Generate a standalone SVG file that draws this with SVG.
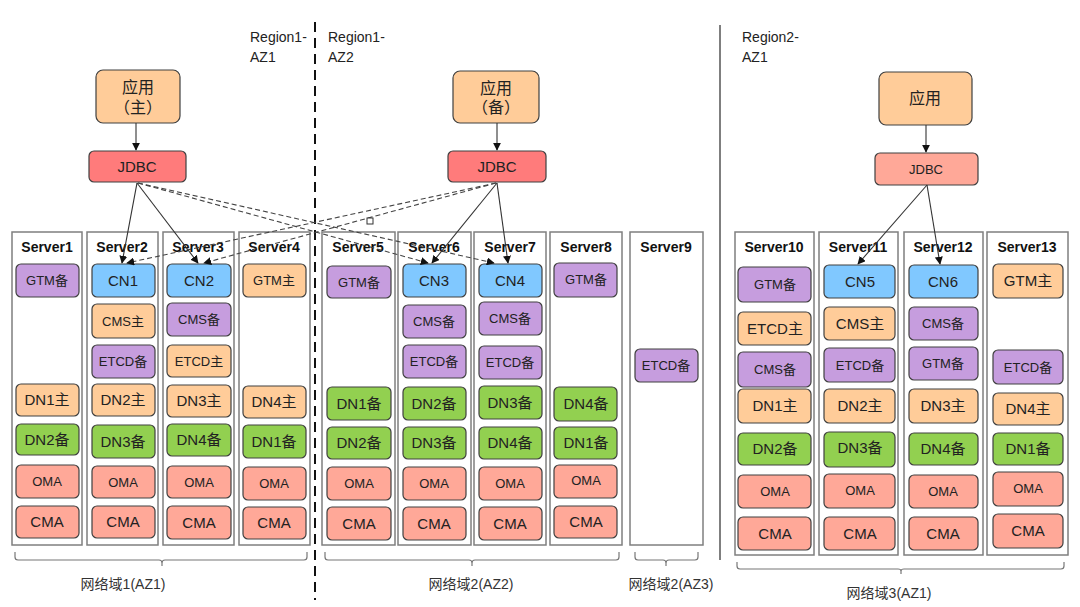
<svg xmlns="http://www.w3.org/2000/svg" width="1080" height="607" viewBox="0 0 1080 607">
<style>
.srv{fill:#fff;stroke:#7f7f7f;stroke-width:1.5}
rect.c{stroke:#404040;stroke-width:1.2}
.p{fill:#C69DDE}.b{fill:#80C8FF}.o{fill:#FFCC99}.g{fill:#92D050}.r{fill:#FFA898}
text{font-family:"Liberation Sans","Noto Sans CJK SC",sans-serif;fill:#222;text-anchor:middle}
.t{font-size:15px}.s{font-size:13px}
.dm{font-size:14px;fill:#333}
.st{font-size:14px;font-weight:bold;fill:#111}
.lb{font-size:14px;text-anchor:start;fill:#222}
.ln{stroke:#333;stroke-width:1.1;fill:none}
.dl{stroke:#444;stroke-width:1.1;fill:none;stroke-dasharray:5 3}
.br{stroke:#777;stroke-width:1.2;fill:none}
</style>
<defs>
<marker id="ah" viewBox="0 0 10 10" refX="9" refY="5" markerWidth="8" markerHeight="8" orient="auto" markerUnits="userSpaceOnUse"><path d="M0,0L10,5L0,10z" fill="#111"/></marker>
</defs>
<rect width="1080" height="607" fill="#fff"/>
<g id="separators">
<line x1="315" y1="22" x2="315" y2="600" stroke="#111" stroke-width="2" stroke-dasharray="10 6"/>
<line x1="720" y1="25" x2="720" y2="560" stroke="#555" stroke-width="1.5"/>
</g>
<g id="region-labels">
<text class="lb" x="250" y="42">Region1-</text><text class="lb" x="250" y="62">AZ1</text>
<text class="lb" x="328" y="42">Region1-</text><text class="lb" x="328" y="62">AZ2</text>
<text class="lb" x="742" y="42">Region2-</text><text class="lb" x="742" y="62">AZ1</text>
</g>
<g id="app1"><rect x="96" y="70" width="84" height="53" rx="7" fill="#FFCC99" stroke="#404040" stroke-width="1.2"/><text class="t" x="138" y="93" style="font-size:16px">应用</text><text class="t" x="138" y="113" style="font-size:16px">（主）</text></g>
<g id="app2"><rect x="453" y="71" width="86" height="52" rx="7" fill="#FFCC99" stroke="#404040" stroke-width="1.2"/><text class="t" x="496" y="94" style="font-size:16px">应用</text><text class="t" x="496" y="113" style="font-size:16px">（备）</text></g>
<g id="app3"><rect x="879" y="72" width="93" height="53" rx="7" fill="#FFCC99" stroke="#404040" stroke-width="1.2"/><text class="t" x="925" y="104" style="font-size:16px">应用</text></g>
<g id="jdbc1"><rect x="89" y="151" width="97" height="31" rx="5" fill="#FF7B7B" stroke="#404040" stroke-width="1.2"/><text class="t" x="137" y="172">JDBC</text></g>
<g id="jdbc2"><rect x="448" y="151" width="98" height="31" rx="5" fill="#FF7B7B" stroke="#404040" stroke-width="1.2"/><text class="t" x="497" y="172">JDBC</text></g>
<g id="jdbc3"><rect x="875" y="153" width="103" height="32" rx="5" fill="#FFA898" stroke="#404040" stroke-width="1.2"/><text class="s" x="926" y="174">JDBC</text></g>

<g id="server1"><rect class="srv" x="12" y="232" width="70" height="313"/><text class="st" x="47" y="252">Server1</text>
<rect class="c p" x="16" y="264" width="63" height="33" rx="5"/><text class="s" x="47" y="285">GTM备</text>
<rect class="c o" x="16" y="384" width="63" height="32" rx="5"/><text class="t" x="47" y="405">DN1主</text>
<rect class="c g" x="16" y="424" width="63" height="31" rx="5"/><text class="t" x="47" y="445">DN2备</text>
<rect class="c r" x="16" y="465" width="63" height="33" rx="5"/><text class="s" x="47" y="486">OMA</text>
<rect class="c r" x="16" y="506" width="63" height="32" rx="5"/><text class="t" x="47" y="527">CMA</text></g>

<g id="server2"><rect class="srv" x="87" y="232" width="71" height="313"/><text class="st" x="122" y="252">Server2</text>
<rect class="c b" x="92" y="264" width="63" height="33" rx="5"/><text class="t" x="123" y="286">CN1</text>
<rect class="c o" x="92" y="304" width="63" height="34" rx="5"/><text class="s" x="123" y="326">CMS主</text>
<rect class="c p" x="92" y="345" width="63" height="33" rx="5"/><text class="s" x="123" y="366">ETCD备</text>
<rect class="c o" x="92" y="384" width="63" height="32" rx="5"/><text class="t" x="123" y="405">DN2主</text>
<rect class="c g" x="92" y="425" width="63" height="33" rx="5"/><text class="t" x="123" y="447">DN3备</text>
<rect class="c r" x="92" y="466" width="63" height="32" rx="5"/><text class="s" x="123" y="487">OMA</text>
<rect class="c r" x="92" y="506" width="63" height="32" rx="5"/><text class="t" x="123" y="527">CMA</text></g>

<g id="server3"><rect class="srv" x="163" y="232" width="71" height="313"/><text class="st" x="198" y="252">Server3</text>
<rect class="c b" x="167" y="264" width="64" height="33" rx="5"/><text class="t" x="199" y="286">CN2</text>
<rect class="c p" x="167" y="303" width="64" height="33" rx="5"/><text class="s" x="199" y="324">CMS备</text>
<rect class="c o" x="167" y="345" width="64" height="32" rx="5"/><text class="s" x="199" y="366">ETCD主</text>
<rect class="c o" x="167" y="385" width="64" height="32" rx="5"/><text class="t" x="199" y="406">DN3主</text>
<rect class="c g" x="167" y="424" width="64" height="32" rx="5"/><text class="t" x="199" y="445">DN4备</text>
<rect class="c r" x="167" y="466" width="64" height="32" rx="5"/><text class="s" x="199" y="487">OMA</text>
<rect class="c r" x="167" y="506" width="64" height="33" rx="5"/><text class="t" x="199" y="528">CMA</text></g>

<g id="server4"><rect class="srv" x="239" y="232" width="71" height="313"/><text class="st" x="274" y="252">Server4</text>
<rect class="c o" x="243" y="264" width="63" height="33" rx="5"/><text class="s" x="274" y="285">GTM主</text>
<rect class="c o" x="243" y="386" width="63" height="32" rx="5"/><text class="t" x="274" y="407">DN4主</text>
<rect class="c g" x="243" y="425" width="63" height="33" rx="5"/><text class="t" x="274" y="447">DN1备</text>
<rect class="c r" x="243" y="467" width="63" height="33" rx="5"/><text class="s" x="274" y="488">OMA</text>
<rect class="c r" x="243" y="507" width="63" height="32" rx="5"/><text class="t" x="274" y="528">CMA</text></g>

<g id="server5"><rect class="srv" x="322" y="232" width="73" height="313"/><text class="st" x="358" y="252">Server5</text>
<rect class="c p" x="327" y="266" width="64" height="32" rx="5"/><text class="s" x="359" y="287">GTM备</text>
<rect class="c g" x="327" y="387" width="64" height="33" rx="5"/><text class="t" x="359" y="409">DN1备</text>
<rect class="c g" x="327" y="427" width="64" height="32" rx="5"/><text class="t" x="359" y="448">DN2备</text>
<rect class="c r" x="327" y="467" width="64" height="33" rx="5"/><text class="s" x="359" y="488">OMA</text>
<rect class="c r" x="327" y="507" width="64" height="33" rx="5"/><text class="t" x="359" y="529">CMA</text></g>

<g id="server6"><rect class="srv" x="398" y="232" width="73" height="313"/><text class="st" x="434" y="252">Server6</text>
<rect class="c b" x="403" y="264" width="63" height="33" rx="5"/><text class="t" x="434" y="286">CN3</text>
<rect class="c p" x="403" y="305" width="63" height="33" rx="5"/><text class="s" x="434" y="326">CMS备</text>
<rect class="c p" x="403" y="345" width="63" height="33" rx="5"/><text class="s" x="434" y="366">ETCD备</text>
<rect class="c g" x="403" y="387" width="63" height="33" rx="5"/><text class="t" x="434" y="409">DN2备</text>
<rect class="c g" x="403" y="427" width="63" height="32" rx="5"/><text class="t" x="434" y="448">DN3备</text>
<rect class="c r" x="403" y="467" width="63" height="33" rx="5"/><text class="s" x="434" y="488">OMA</text>
<rect class="c r" x="403" y="507" width="63" height="33" rx="5"/><text class="t" x="434" y="529">CMA</text></g>

<g id="server7"><rect class="srv" x="474" y="232" width="72" height="313"/><text class="st" x="510" y="252">Server7</text>
<rect class="c b" x="479" y="264" width="63" height="33" rx="5"/><text class="t" x="510" y="286">CN4</text>
<rect class="c p" x="479" y="302" width="63" height="33" rx="5"/><text class="s" x="510" y="323">CMS备</text>
<rect class="c p" x="479" y="346" width="63" height="33" rx="5"/><text class="s" x="510" y="367">ETCD备</text>
<rect class="c g" x="479" y="386" width="63" height="33" rx="5"/><text class="t" x="510" y="408">DN3备</text>
<rect class="c g" x="479" y="427" width="63" height="32" rx="5"/><text class="t" x="510" y="448">DN4备</text>
<rect class="c r" x="479" y="467" width="63" height="33" rx="5"/><text class="s" x="510" y="488">OMA</text>
<rect class="c r" x="479" y="507" width="63" height="33" rx="5"/><text class="t" x="510" y="529">CMA</text></g>

<g id="server8"><rect class="srv" x="550" y="232" width="72" height="313"/><text class="st" x="586" y="252">Server8</text>
<rect class="c p" x="554" y="263" width="63" height="34" rx="5"/><text class="s" x="586" y="284">GTM备</text>
<rect class="c g" x="554" y="387" width="63" height="34" rx="5"/><text class="t" x="586" y="409">DN4备</text>
<rect class="c g" x="554" y="427" width="63" height="32" rx="5"/><text class="t" x="586" y="448">DN1备</text>
<rect class="c r" x="554" y="465" width="63" height="33" rx="5"/><text class="s" x="586" y="485">OMA</text>
<rect class="c r" x="554" y="506" width="63" height="32" rx="5"/><text class="t" x="586" y="527">CMA</text></g>

<g id="server9"><rect class="srv" x="630" y="232" width="73" height="313"/><text class="st" x="666" y="252">Server9</text>
<rect class="c p" x="635" y="349" width="63" height="33" rx="5"/><text class="s" x="666" y="370">ETCD备</text></g>

<g id="server10"><rect class="srv" x="735" y="232" width="79" height="323"/><text class="st" x="774" y="252">Server10</text>
<rect class="c p" x="738" y="267" width="73" height="35" rx="5"/><text class="s" x="775" y="289">GTM备</text>
<rect class="c o" x="738" y="312" width="73" height="33" rx="5"/><text class="t" x="775" y="334">ETCD主</text>
<rect class="c p" x="738" y="352" width="73" height="35" rx="5"/><text class="s" x="775" y="374">CMS备</text>
<rect class="c o" x="738" y="389" width="73" height="34" rx="5"/><text class="t" x="775" y="411">DN1主</text>
<rect class="c g" x="738" y="433" width="73" height="32" rx="5"/><text class="t" x="775" y="454">DN2备</text>
<rect class="c r" x="738" y="475" width="73" height="33" rx="5"/><text class="s" x="775" y="496">OMA</text>
<rect class="c r" x="738" y="517" width="73" height="33" rx="5"/><text class="t" x="775" y="539">CMA</text></g>

<g id="server11"><rect class="srv" x="819" y="232" width="79" height="323"/><text class="st" x="858" y="252">Server11</text>
<rect class="c b" x="824" y="265" width="71" height="33" rx="5"/><text class="t" x="860" y="287">CN5</text>
<rect class="c o" x="824" y="307" width="71" height="33" rx="5"/><text class="t" x="860" y="329">CMS主</text>
<rect class="c p" x="824" y="348" width="71" height="34" rx="5"/><text class="s" x="860" y="370">ETCD备</text>
<rect class="c o" x="824" y="389" width="71" height="34" rx="5"/><text class="t" x="860" y="411">DN2主</text>
<rect class="c g" x="824" y="432" width="71" height="35" rx="5"/><text class="t" x="860" y="453">DN3备</text>
<rect class="c r" x="824" y="474" width="71" height="34" rx="5"/><text class="s" x="860" y="495">OMA</text>
<rect class="c r" x="824" y="517" width="71" height="33" rx="5"/><text class="t" x="860" y="539">CMA</text></g>

<g id="server12"><rect class="srv" x="904" y="232" width="79" height="323"/><text class="st" x="943" y="252">Server12</text>
<rect class="c b" x="909" y="265" width="69" height="33" rx="5"/><text class="t" x="943" y="287">CN6</text>
<rect class="c p" x="909" y="307" width="69" height="33" rx="5"/><text class="s" x="943" y="328">CMS备</text>
<rect class="c p" x="909" y="347" width="69" height="33" rx="5"/><text class="s" x="943" y="368">GTM备</text>
<rect class="c o" x="909" y="389" width="69" height="34" rx="5"/><text class="t" x="943" y="411">DN3主</text>
<rect class="c g" x="909" y="433" width="69" height="32" rx="5"/><text class="t" x="943" y="454">DN4备</text>
<rect class="c r" x="909" y="475" width="69" height="33" rx="5"/><text class="s" x="943" y="496">OMA</text>
<rect class="c r" x="909" y="517" width="69" height="33" rx="5"/><text class="t" x="943" y="539">CMA</text></g>

<g id="server13"><rect class="srv" x="987" y="232" width="81" height="323"/><text class="st" x="1027" y="252">Server13</text>
<rect class="c o" x="993" y="264" width="70" height="34" rx="5"/><text class="t" x="1028" y="286">GTM主</text>
<rect class="c p" x="993" y="350" width="70" height="34" rx="5"/><text class="s" x="1028" y="372">ETCD备</text>
<rect class="c o" x="993" y="393" width="70" height="32" rx="5"/><text class="t" x="1028" y="414">DN4主</text>
<rect class="c g" x="993" y="433" width="70" height="32" rx="5"/><text class="t" x="1028" y="454">DN1备</text>
<rect class="c r" x="993" y="472" width="70" height="34" rx="5"/><text class="s" x="1028" y="493">OMA</text>
<rect class="c r" x="993" y="514" width="70" height="34" rx="5"/><text class="t" x="1028" y="536">CMA</text></g>

<g id="connectors">
<line class="ln" x1="136" y1="123" x2="136" y2="150" marker-end="url(#ah)"/>
<line class="ln" x1="497" y1="123" x2="497" y2="150" marker-end="url(#ah)"/>
<line class="ln" x1="926" y1="125" x2="926" y2="152" marker-end="url(#ah)"/>
<line class="ln" x1="137" y1="183" x2="122" y2="263" marker-end="url(#ah)"/>
<line class="ln" x1="137" y1="183" x2="198" y2="263" marker-end="url(#ah)"/>
<line class="ln" x1="497" y1="183" x2="432" y2="263" marker-end="url(#ah)"/>
<line class="ln" x1="497" y1="183" x2="508" y2="263" marker-end="url(#ah)"/>
<line class="ln" x1="927" y1="185" x2="858" y2="264" marker-end="url(#ah)"/>
<line class="ln" x1="927" y1="185" x2="940" y2="264" marker-end="url(#ah)"/>
<line class="dl" x1="138" y1="183" x2="428" y2="263" marker-end="url(#ah)"/>
<line class="dl" x1="138" y1="183" x2="494" y2="263" marker-end="url(#ah)"/>
<line class="dl" x1="496" y1="183" x2="127" y2="263" marker-end="url(#ah)"/>
<line class="dl" x1="496" y1="183" x2="204" y2="263" marker-end="url(#ah)"/>
<rect x="367" y="218" width="6" height="6" fill="#fff" stroke="#333" stroke-width="1"/>
</g>
<g id="braces">
<path class="br" d="M15,552 v5 q0,3 3,3 h141 q3,0 3,3 v3 v-3 q0,-3 3,-3 h139 q3,0 3,-3 v-5"/>
<path class="br" d="M325,552 v5 q0,3 3,3 h141 q3,0 3,3 v3 v-3 q0,-3 3,-3 h141 q3,0 3,-3 v-5"/>
<path class="br" d="M635,552 v5 q0,3 3,3 h25 q3,0 3,3 v3 v-3 q0,-3 3,-3 h26 q3,0 3,-3 v-5"/>
<path class="br" d="M737,562 v4 q0,3 3,3 h158 q3,0 3,2 v3 v-3 q0,-2 3,-2 h157 q3,0 3,-3 v-4"/>
</g>
<g id="domain-labels">
<text class="dm" x="123" y="589">网络域1(AZ1)</text>
<text class="dm" x="471" y="589">网络域2(AZ2)</text>
<text class="dm" x="671" y="589">网络域2(AZ3)</text>
<text class="dm" x="889" y="598">网络域3(AZ1)</text>
</g>
</svg>
